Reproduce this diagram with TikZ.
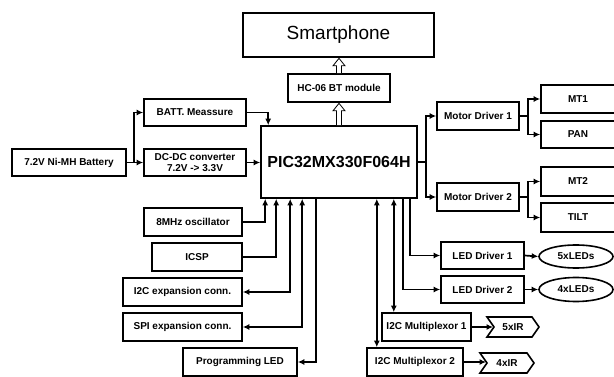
\documentclass[tikz,border=0pt]{standalone}
\usepackage{fontspec}
\setmainfont{Liberation Sans}
\usetikzlibrary{arrows.meta,shapes.geometric,shapes.symbols}
\begin{document}
\begin{tikzpicture}[x=1pt,y=-1pt,
  box/.style={draw, line width=1.6pt, inner sep=0pt, align=center,
    font=\bfseries\fontsize{10}{11.5}\selectfont},
  arr/.style={line width=1.7pt, -{Latex[length=6.5pt,width=6pt]}},
  barr/.style={line width=1.7pt, {Latex[length=6.5pt,width=6pt]}-{Latex[length=6.5pt,width=6pt]}},
  hollow/.style={line width=0.8pt, line join=miter, fill=white}]
\useasboundingbox (0,0) rectangle (614,377);
% nodes
\node[draw, line width=1.6pt, minimum width=191pt, minimum height=44pt,
  font=\fontsize{19}{22}\selectfont] (smart) at (338.5,35) {Smartphone};
\node[box, minimum width=102pt, minimum height=28pt] (hc) at (339,88) {HC-06 BT module};
\node[box, minimum width=156pt, minimum height=72pt,
  font=\bfseries\fontsize{16}{18}\selectfont] (pic) at (339,162) {PIC32MX330F064H};
\node[box, minimum width=102pt, minimum height=27pt] (batt) at (195,112.5) {BATT. Meassure};
\node[box, minimum width=102pt, minimum height=27pt] (dcdc) at (195,162.5) {DC-DC converter\\7.2V -> 3.3V};
\node[box, minimum width=114pt, minimum height=27pt] (bat) at (69,162.5) {7.2V Ni-MH Battery};
\node[box, minimum width=98pt, minimum height=28pt] (osc) at (193,222) {8MHz oscillator};
\node[box, minimum width=90pt, minimum height=28pt] (icsp) at (197,257) {ICSP};
\node[box, minimum width=119pt, minimum height=28pt] (i2c) at (182.5,292) {I2C expansion conn.};
\node[box, minimum width=119pt, minimum height=28pt] (spi) at (182.5,327) {SPI expansion conn.};
\node[box, minimum width=114pt, minimum height=28pt] (pled) at (240,362) {Programming LED};
\node[box, minimum width=82pt, minimum height=28pt] (md1) at (478,116) {Motor Driver 1};
\node[box, minimum width=82pt, minimum height=28pt] (md2) at (478,197) {Motor Driver 2};
\node[box, minimum width=74pt, minimum height=28pt] (mt1) at (578,99) {MT1};
\node[box, minimum width=74pt, minimum height=27pt] (pan) at (578,134.5) {PAN};
\node[box, minimum width=74pt, minimum height=29pt] (mt2) at (578,181.5) {MT2};
\node[box, minimum width=74pt, minimum height=29pt] (tilt) at (578,217.5) {TILT};
\node[box, minimum width=83pt, minimum height=27pt] (led1) at (482.5,255.5) {LED Driver 1};
\node[box, minimum width=83pt, minimum height=27pt] (led2) at (482.5,289.5) {LED Driver 2};
\node[box, ellipse, minimum width=74pt, minimum height=23pt] (e5) at (576,256.5) {5xLEDs};
\node[box, ellipse, minimum width=74pt, minimum height=24pt] (e4) at (576,289.5) {4xLEDs};
\node[box, minimum width=89pt, minimum height=28pt] (mux1) at (426.5,327) {I2C Multiplexor 1};
\node[box, minimum width=96pt, minimum height=28pt] (mux2) at (415,362) {I2C Multiplexor 2};
\node[box, signal, signal from=west, signal to=east, signal pointer angle=110,
  minimum width=52pt, minimum height=20pt] (ir5) at (513,327) {5xIR};
\node[box, signal, signal from=west, signal to=east, signal pointer angle=110,
  minimum width=54pt, minimum height=20pt] (ir4) at (507,363) {4xIR};
% hollow arrows
\draw[hollow] ([xshift=-2.5pt]pic.north) -- ([xshift=-2.5pt,yshift=-8pt]hc.south)
  -- ([xshift=-6pt,yshift=-8pt]hc.south) -- ([yshift=-0.5pt]hc.south)
  -- ([xshift=6pt,yshift=-8pt]hc.south) -- ([xshift=2.5pt,yshift=-8pt]hc.south)
  -- ([xshift=2.5pt]pic.north);
\draw[hollow] ([xshift=-2.5pt]hc.north) -- ([xshift=-2.5pt,yshift=-8pt]hc.north |- smart.south)
  -- ([xshift=-6pt,yshift=-8pt]hc.north |- smart.south) -- ([yshift=-0.5pt]hc.north |- smart.south)
  -- ([xshift=6pt,yshift=-8pt]hc.north |- smart.south) -- ([xshift=2.5pt,yshift=-8pt]hc.north |- smart.south)
  -- ([xshift=2.5pt]hc.north);
% power
\coordinate (bj) at ([xshift=7pt]bat.east);
\draw[arr] (bat.east) -- (bj) |- (batt.west);
\draw[arr] (bat.east) -- (dcdc.west);
\draw[arr] (batt.east) -| ([xshift=8pt]pic.north west);
\draw[arr] (dcdc.east) -- (dcdc.east -| pic.west);
% left bottom
\draw[arr] (osc.east) -| ([xshift=5pt]pic.south west);
\draw[arr] (icsp.east) -| ([xshift=16pt]pic.south west);
\draw[barr] (i2c.east) -| ([xshift=30pt]pic.south west);
\draw[barr] (spi.east) -| ([xshift=42pt]pic.south west);
\draw[arr] ([xshift=56pt]pic.south west) |- (pled.east);
% right bottom
\draw[barr] ([xshift=-41pt]pic.south east) -- ([xshift=-41pt]pic.south east |- mux2.north);
\draw[barr] ([xshift=-24pt]pic.south east) -- ([xshift=-24pt]pic.south east |- mux1.north);
\draw[arr] ([xshift=-15pt]pic.south east) |- (led2.west);
\draw[arr] ([xshift=-8pt]pic.south east) |- (led1.west);
\draw[arr] (led1.east) -- (e5.west);
\draw[arr] (led2.east) -- (e4.west);
\draw[arr] (mux1.east) -- (ir5.west);
\draw[arr] (mux2.east) -- (mux2.east -| ir4.west);
% motors
\coordinate (mj) at ([xshift=8pt]pic.east);
\draw[arr] (pic.east) -- (mj) |- (md1.west);
\draw[arr] (mj) |- (md2.west);
\coordinate (m1j) at ([xshift=8pt]md1.east);
\draw[arr] (md1.east) -- (m1j) |- (mt1.west);
\draw[arr] (m1j) |- (pan.west);
\coordinate (m2j) at ([xshift=8pt]md2.east);
\draw[arr] (md2.east) -- (m2j) |- (mt2.west);
\draw[arr] (m2j) |- (tilt.west);
\end{tikzpicture}
\end{document}
